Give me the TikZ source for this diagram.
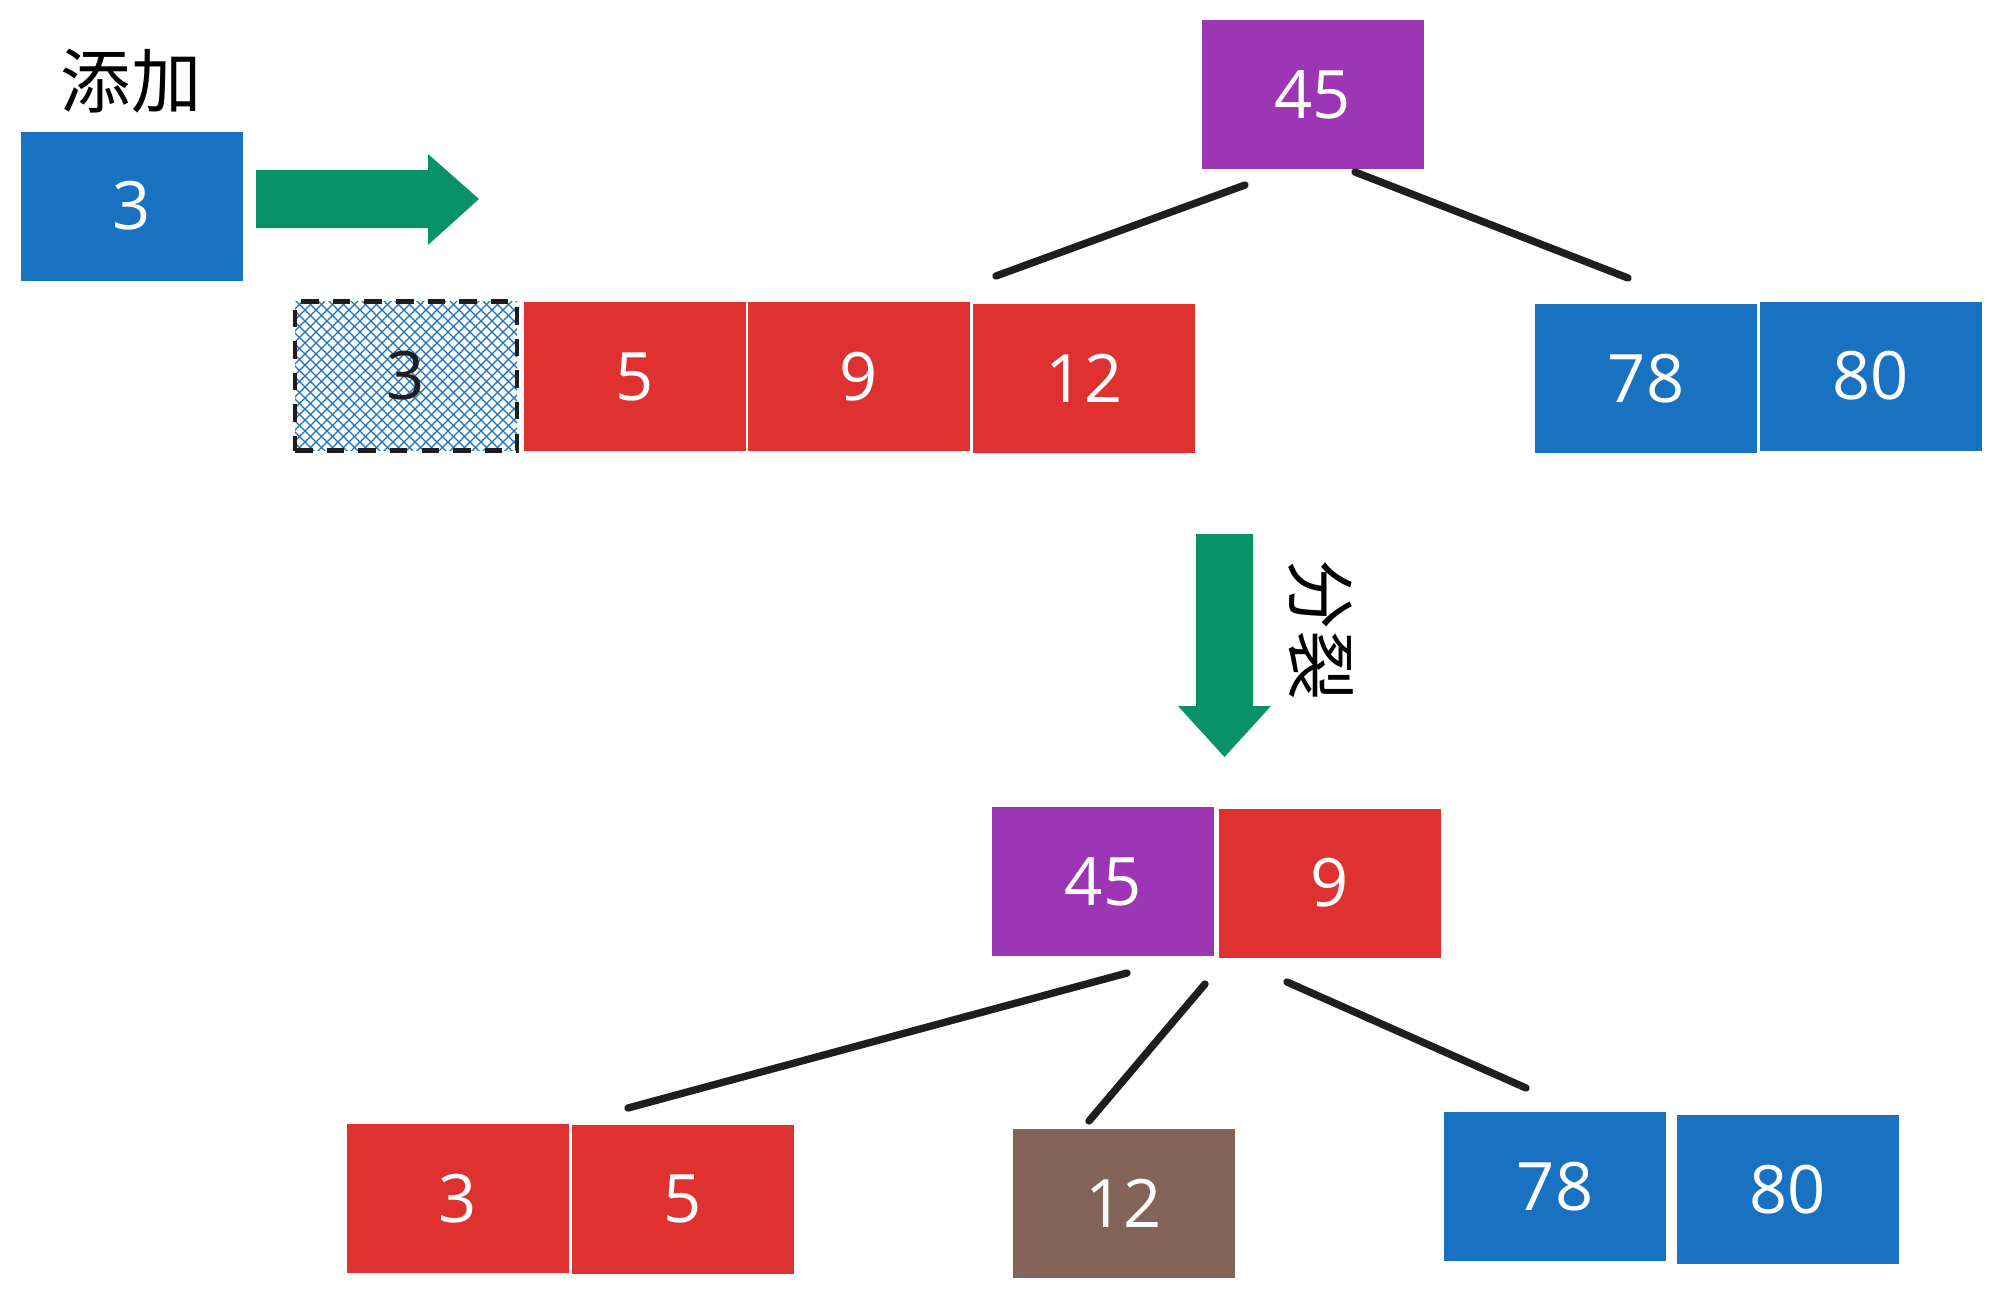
\documentclass[tikz,border=0pt]{standalone}
\usepackage{fontspec}
\setmainfont{Open Sans}
\newfontfamily\cjk{Noto Sans CJK SC}
\usepackage{tikz}
\usetikzlibrary{calc}
\definecolor{kblue}{HTML}{1971C2}
\definecolor{kred}{HTML}{E03131}
\definecolor{kpurple}{HTML}{9C36B5}
\definecolor{kgreen}{HTML}{099268}
\definecolor{kbrown}{HTML}{846358}
\definecolor{kink}{HTML}{1E1E1E}

\begin{document}
\begin{tikzpicture}[
  every node/.style={font=\fontsize{19}{22}\selectfont},
  key/.style={rectangle, minimum width=2.22cm, minimum height=1.49cm,
              inner sep=0pt, text=white},
  hatchbox/.style={key, text=kink, draw=kink, dashed, line width=1.2pt,
              dash pattern=on 5pt off 4pt,
              path picture={
                \foreach \d in {-2.0,-1.89,...,2.0} {
                  \draw[kblue, line width=0.35pt, solid]
                    ($(path picture bounding box.center)+(\d,0)+(-0.9,-0.9)$) -- ++(1.8,1.8);
                  \draw[kblue, line width=0.35pt, solid]
                    ($(path picture bounding box.center)+(\d,0)+(-0.9,0.9)$) -- ++(1.8,-1.8);
                }}},
  link/.style={draw=kink, line width=2.1pt, line cap=round},
  bigarrow/.style={fill=kgreen}
]
  \useasboundingbox (0,0) rectangle (20.02,-12.98);

  % new key
  \node[font=\cjk\fontsize{20}{24}\selectfont] (addlbl) at (1.31,-0.81) {添加};
  \node[key, fill=kblue] (add3) at (1.315,-2.06) {3};
  \fill[bigarrow] (2.56,-1.70) -- (4.28,-1.70) -- (4.28,-1.54) -- (4.79,-1.99)
    -- (4.28,-2.45) -- (4.28,-2.28) -- (2.56,-2.28) -- cycle;

  % tree before split
  \node[key, fill=kpurple] (top45) at (13.125,-0.945) {45};
  \node[hatchbox] (new3) at (4.06,-3.76) {3};
  \node[key, fill=kred] (l5)  at (6.345,-3.765) {5};
  \node[key, fill=kred] (l9)  at (8.59,-3.765)  {9};
  \node[key, fill=kred] (l12) at (10.84,-3.78)  {12};
  \node[key, fill=kblue] (r78) at (16.46,-3.785) {78};
  \node[key, fill=kblue] (r80) at (18.705,-3.76) {80};

  \coordinate (t1) at (12.45,-1.85);
  \coordinate (t2) at (9.96,-2.76);
  \coordinate (t3) at (13.55,-1.72);
  \coordinate (t4) at (16.28,-2.78);
  \draw[link] (t1) -- (t2);
  \draw[link] (t3) -- (t4);

  % split
  \fill[bigarrow] (11.96,-5.34) -- (12.53,-5.34) -- (12.53,-7.06) -- (12.71,-7.06)
    -- (12.245,-7.57) -- (11.78,-7.06) -- (11.96,-7.06) -- cycle;
  \node[font=\cjk\fontsize{20}{24}\selectfont, rotate=-90] (splitlbl) at (13.21,-6.30) {分裂};

  % tree after split
  \node[key, fill=kpurple] (p45) at (11.03,-8.815) {45};
  \node[key, fill=kred]    (p9)  at (13.30,-8.83)  {9};
  \node[key, fill=kred]    (c3)  at (4.58,-11.985) {3};
  \node[key, fill=kred]    (c5)  at (6.83,-11.99)  {5};
  \node[key, fill=kbrown]  (c12) at (11.235,-12.035) {12};
  \node[key, fill=kblue]   (c78) at (15.55,-11.865) {78};
  \node[key, fill=kblue]   (c80) at (17.875,-11.895) {80};

  \coordinate (b1) at (11.27,-9.73);
  \coordinate (b2) at (6.28,-11.08);
  \coordinate (b3) at (12.05,-9.84);
  \coordinate (b4) at (10.89,-11.21);
  \coordinate (b5) at (12.87,-9.82);
  \coordinate (b6) at (15.26,-10.88);
  \draw[link] (b1) -- (b2);
  \draw[link] (b3) -- (b4);
  \draw[link] (b5) -- (b6);
\end{tikzpicture}
\end{document}
